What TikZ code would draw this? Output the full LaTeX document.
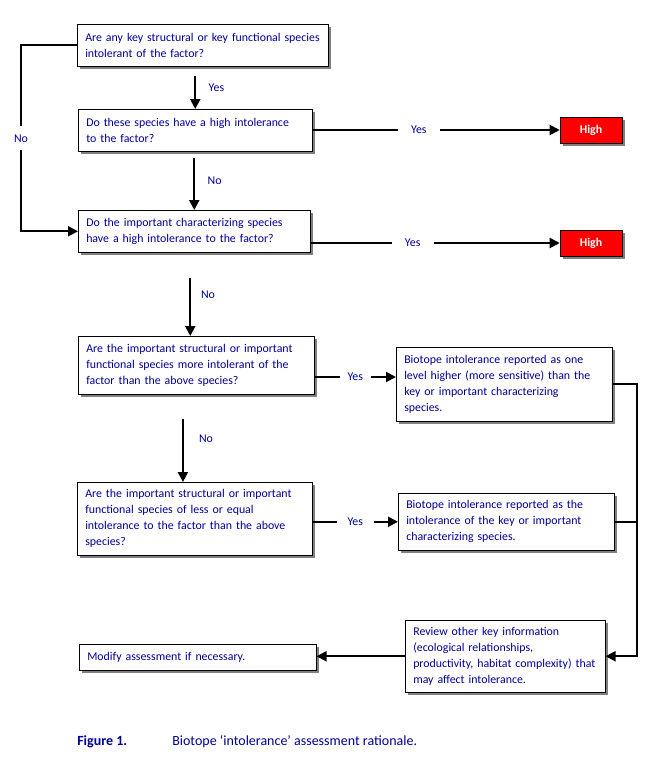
\documentclass[tikz,border=0pt]{standalone}
\usepackage{fontspec}
\setmainfont{Carlito}
\usetikzlibrary{positioning,arrows.meta,shadows}
\definecolor{navy}{RGB}{0,0,150}
\begin{document}
\begin{tikzpicture}[x=0.75pt, y=-0.75pt,
  box/.style={draw, thin, fill=white, anchor=north west, align=left, inner xsep=6pt, inner ysep=0pt,
    text=navy, font=\fontsize{8.9}{12}\selectfont,
    drop shadow={shadow xshift=2.4pt, shadow yshift=-2.4pt, fill=gray, opacity=1}},
  high/.style={draw, thin, fill=red, text=white, font=\fontsize{8.9}{12}\selectfont\bfseries,
    minimum width=46.5pt, minimum height=19.5pt, inner sep=0pt,
    drop shadow={shadow xshift=2.4pt, shadow yshift=-2.4pt, fill=gray, opacity=1}},
  flow/.style={draw, line width=1.5pt, -{Triangle[length=7.5pt,width=7.5pt]}},
  line/.style={draw, line width=1.5pt},
  lbl/.style={text=navy, font=\fontsize{8.9}{12}\selectfont, fill=white}]
\useasboundingbox (0,0) rectangle (665,779);
\node (q1) [box, text width=176.25pt, minimum height=31.5pt] at (77,24) {Are any key structural or key functional species\\intolerant of the factor?};
\node (q2) [box, text width=163.5pt, minimum height=31.5pt] at (78,109) {Do these species have a high intolerance\\to the factor?};
\node (q3) [box, text width=162pt, minimum height=31.5pt] at (78,210) {Do the important characterizing species\\have a high intolerance to the factor?};
\node (q4) [box, text width=165pt, minimum height=43.5pt] at (78,336) {Are the important structural or important\\functional species more intolerant of the\\factor than the above species?};
\node (q5) [box, text width=164.25pt, minimum height=54.75pt] at (77,482) {Are the important structural or important\\functional species of less or equal\\intolerance to the factor than the above\\species?};
\node (high1) [high] at (591,130) {High};
\node (high2) [high] at (591,243) {High};
\node (r1) [box, text width=150pt, minimum height=55.5pt] at (396,347) {Biotope intolerance reported as one\\level higher (more sensitive) than the\\key or important characterizing\\species.};
\node (r2) [box, text width=150pt, minimum height=42.75pt] at (398,493) {Biotope intolerance reported as the\\intolerance of the key or important\\characterizing species.};
\node (r3) [box, text width=138pt, minimum height=54pt] at (405,620) {Review other key information\\(ecological relationships,\\productivity, habitat complexity) that\\may affect intolerance.};
\node (mod) [box, text width=165.75pt, minimum height=19.5pt] at (79,644) {Modify assessment if necessary.};
\node (fig) [anchor=west, inner sep=0pt, text=navy, font=\fontsize{10.5}{12}\selectfont\bfseries] at (77,742) {Figure 1.};
\node (cap) [anchor=west, inner sep=0pt, text=navy, font=\fontsize{10.5}{12}\selectfont] at (172,742) {Biotope ‘intolerance’ assessment rationale.};
\coordinate (westrail) at (21,0);
\coordinate (eastrail) at (637,0);
\coordinate (row4) at (0,377);
\draw[flow, shorten <=7pt] (q1.south -| q2.north) -- node[lbl, right=6pt]{Yes} (q2.north);
\draw[flow, shorten <=5pt] (q2.south -| q3.north) -- node[lbl, right=6pt]{No} (q3.north);
\draw[flow, shorten <=19pt] ([xshift=-3pt]q3.south) -- node[lbl, right=4pt]{No} ([xshift=-3pt]q3.south |- q4.north);
\draw[flow, shorten <=18pt] ([xshift=-10pt]q4.south) -- node[lbl, right=8pt]{No} ([xshift=-10pt]q4.south |- q5.north);
\draw[flow] (q1.west) -| node[lbl, pos=0.75, inner ysep=6pt]{No} (q3.west -| westrail) -- (q3.west);
\draw[flow] (q2.east |- high1) -- node[lbl, pos=0.43, inner xsep=10pt]{Yes} (high1);
\draw[flow] (q3.east |- high2) -- node[lbl, pos=0.41, inner xsep=10pt]{Yes} (high2);
\draw[flow] (q4.east |- row4) -- node[lbl, inner xsep=6pt]{Yes} (r1.west |- row4);
\draw[flow] (q5.east |- r2.west) -- node[lbl, inner xsep=8pt]{Yes} (r2.west);
\draw[flow] (r1.east) -| (r3.east -| eastrail) -- (r3.east);
\draw[line] (r2.east) -- (r2.east -| eastrail);
\draw[flow] (r3.west) -- (r3.west -| mod.east);
\end{tikzpicture}
\end{document}
